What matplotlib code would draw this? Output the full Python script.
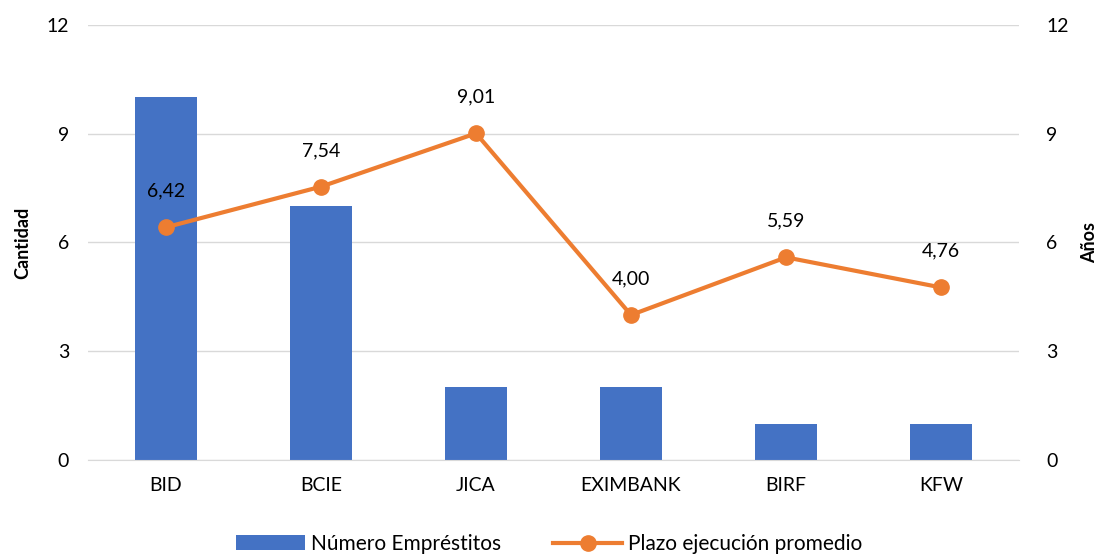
import matplotlib.pyplot as plt
import numpy as np

plt.rcParams['font.family'] = ['Lato', 'DejaVu Sans']

bancos = ['BID', 'BCIE', 'JICA', 'EXIMBANK', 'BIRF', 'KFW']
num_emprestitos = [10, 7, 2, 2, 1, 1]
plazo_promedio = [6.42, 7.54, 9.01, 4.00, 5.59, 4.76]
yticks = [0, 3, 6, 9, 12]

azul = '#4472C4'
naranja = '#ED7D31'
gris = '#D9D9D9'

fig = plt.figure(figsize=(10.99, 5.54), dpi=100)
ax = fig.add_axes([0.0805, 0.1697, 0.8463, 0.7852])
x = np.arange(len(bancos))

ax.set_axisbelow(True)
ax.grid(axis='y', color=gris, linewidth=1)
barras = ax.bar(x, num_emprestitos, width=0.4, color=azul, label='Número Empréstitos', zorder=2)
ax.set_xlim(-0.5, len(bancos) - 0.5)
ax.set_ylim(0, 12)
ax.set_yticks(yticks)
ax.set_xticks(x)
ax.set_xticklabels(bancos)
ax.tick_params(axis='both', length=0, labelsize=14, colors='black')
ax.tick_params(axis='x', pad=12)
ax.tick_params(axis='y', pad=14)
for s in ['top', 'left', 'right']:
    ax.spines[s].set_visible(False)
ax.spines['bottom'].set_color(gris)
ax.set_ylabel('Cantidad', fontsize=13, fontweight='bold', labelpad=11)

ax2 = ax.twinx()
linea, = ax2.plot(x, plazo_promedio, color=naranja, linewidth=3, marker='o',
                  markersize=11, label='Plazo ejecución promedio', zorder=3)
ax2.set_ylim(0, 12)
ax2.set_yticks(yticks)
ax2.tick_params(axis='y', length=0, labelsize=14, pad=20)
for s in ['top', 'left', 'right', 'bottom']:
    ax2.spines[s].set_visible(False)
ax2.set_ylabel('Años', fontsize=13, fontweight='bold', labelpad=9)

for xi, v in zip(x, plazo_promedio):
    ax2.annotate(f'{v:.2f}'.replace('.', ','), (xi, v), xytext=(0, 20),
                 textcoords='offset points', ha='center', va='bottom', fontsize=14)

fig.legend(handles=[barras, linea], loc='center', bbox_to_anchor=(0.5, 0.018),
           ncol=2, frameon=False, fontsize=15, handlelength=3.3, columnspacing=2.5,
           handletextpad=0.3)

fig.savefig('out.png', dpi=100)
